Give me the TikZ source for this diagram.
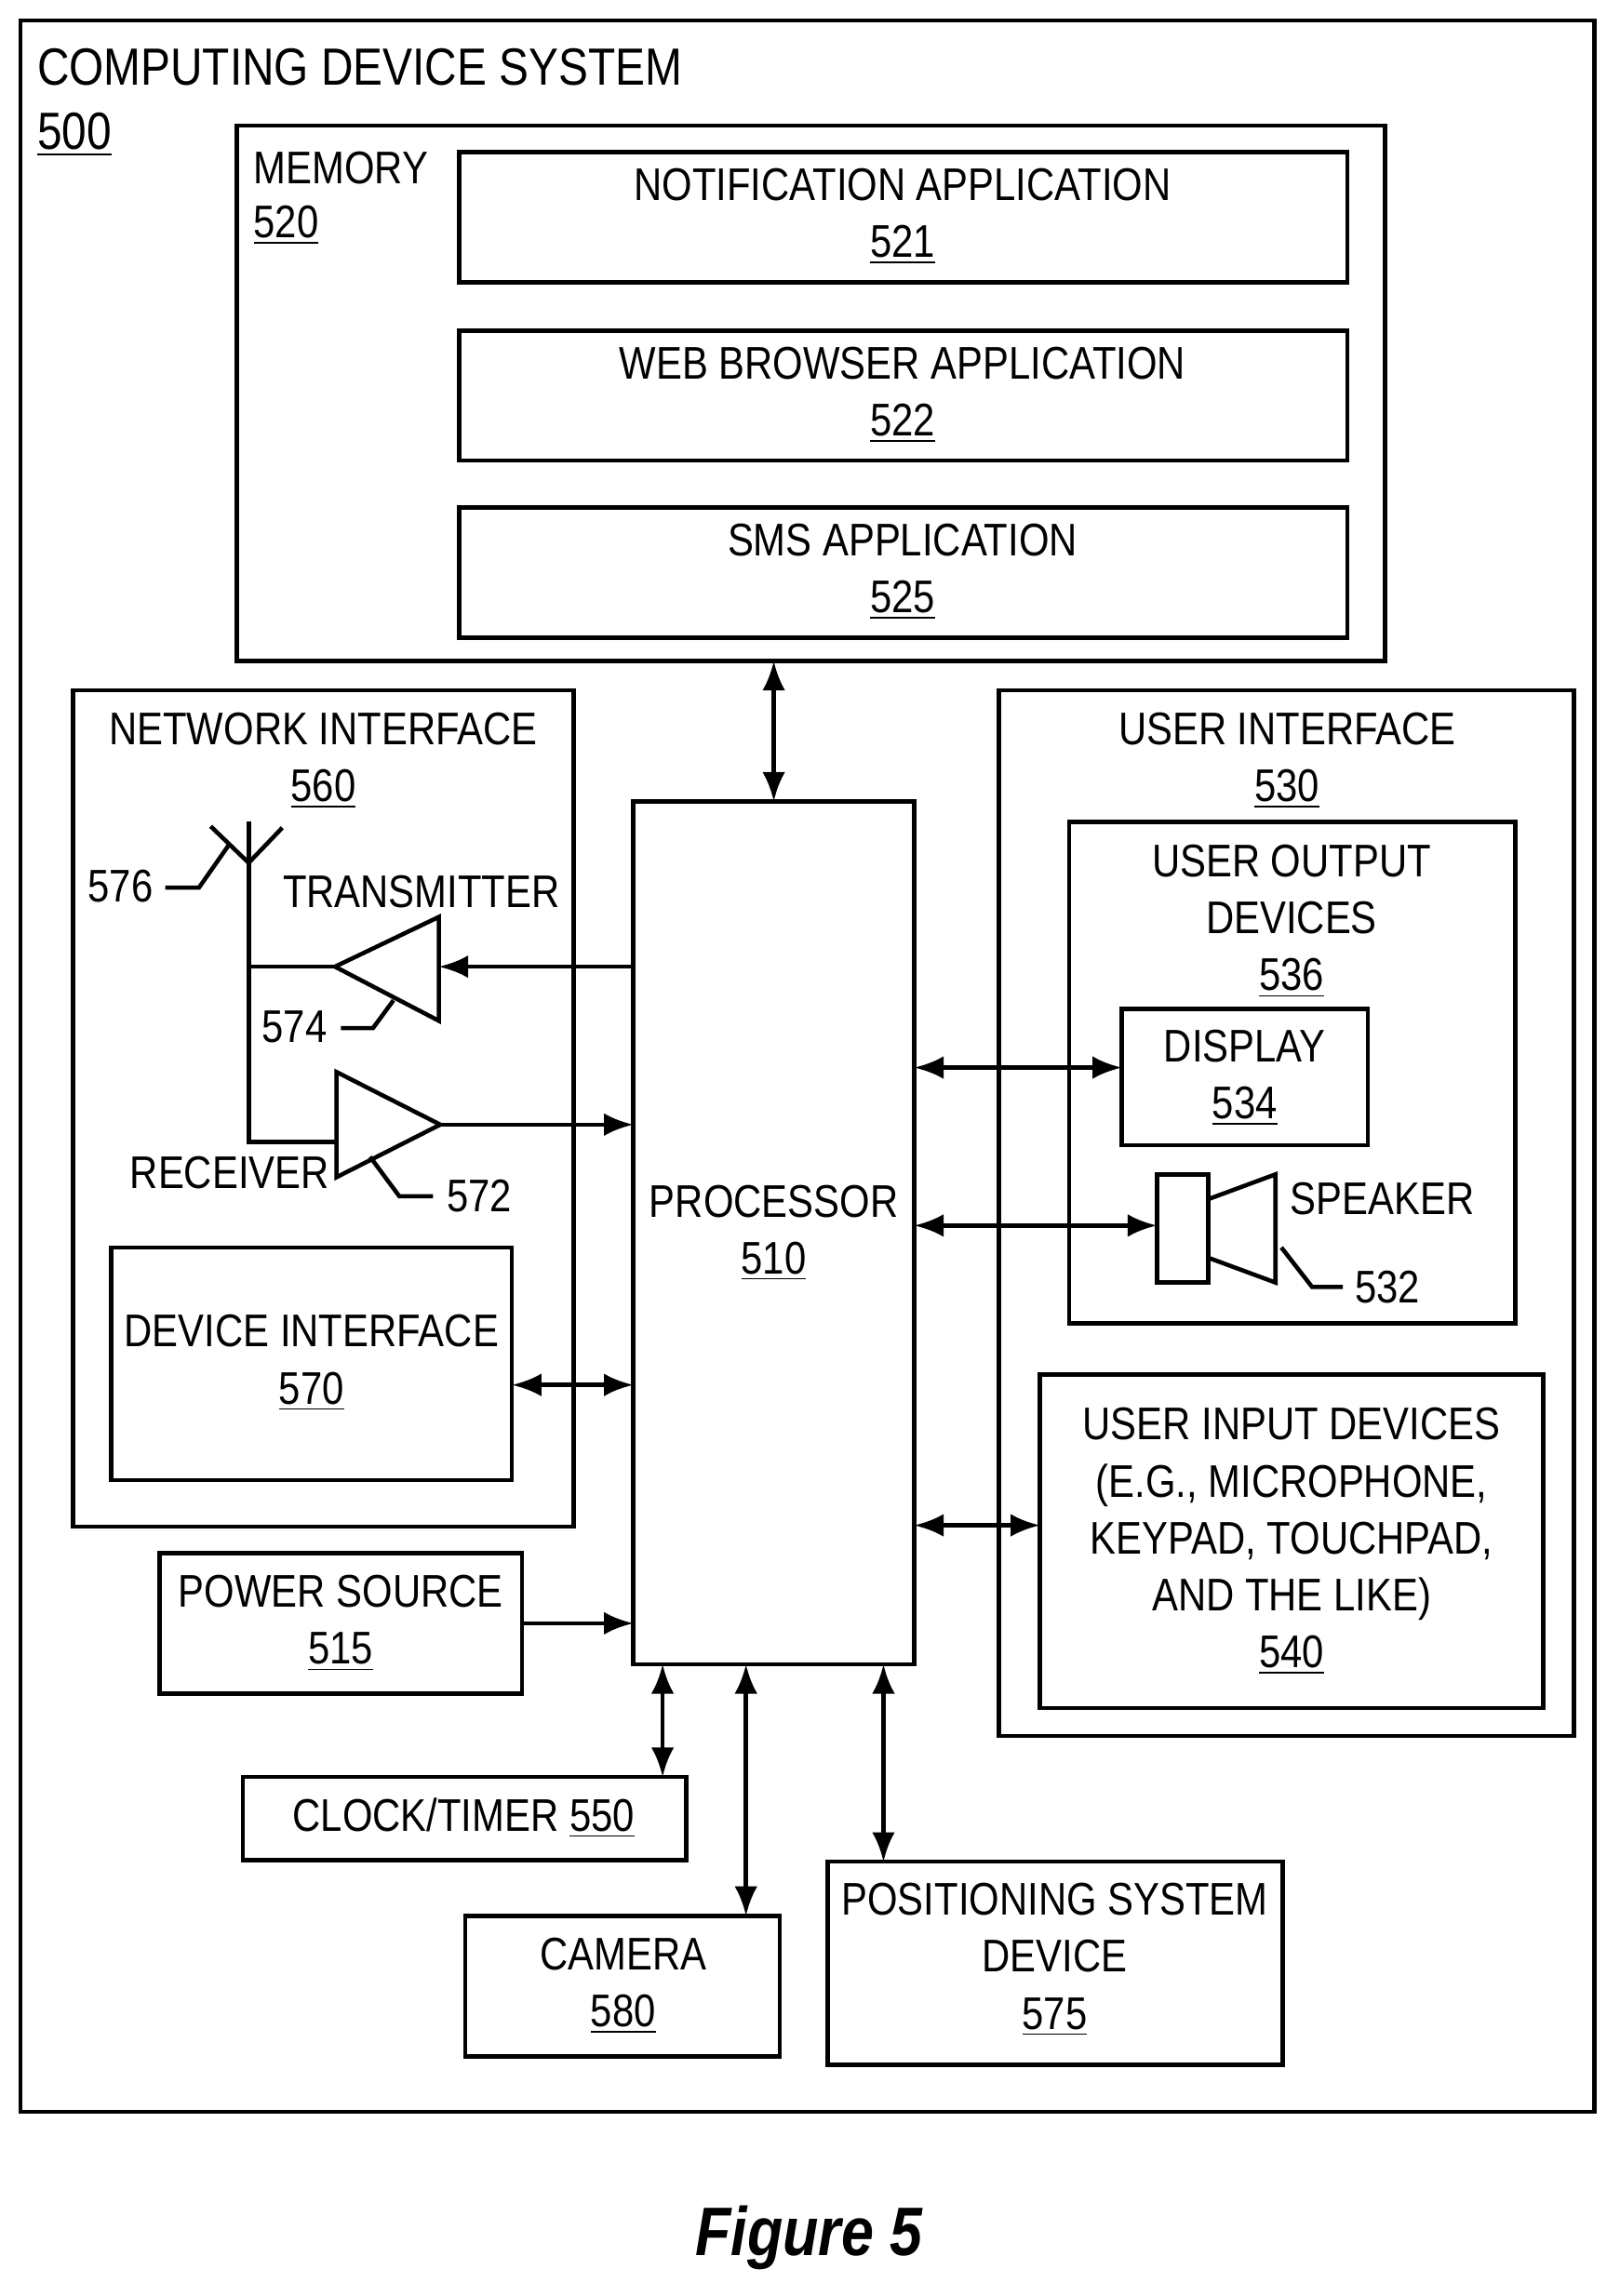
\documentclass[tikz,border=0pt]{standalone}
\usepackage{fontspec}
\setmainfont[FakeStretch=0.85]{Liberation Sans}
\usetikzlibrary{arrows.meta}
\begin{document}
\begin{tikzpicture}[
    x=0.01572cm, y=-0.01572cm,
    box/.style={draw, line width=1.3pt},
    lbl/.style={font=\fontsize{14}{17.4}\selectfont, align=center, inner sep=0pt},
    wire/.style={line width=1.3pt},
    link/.style={line width=1.3pt, {Latex[length=9pt,width=7pt]}-{Latex[length=9pt,width=7pt]}},
    feed/.style={line width=1.3pt, -{Latex[length=9pt,width=7pt]}}
]
\useasboundingbox (0,0) rectangle (1107,1570);

% outer system
\draw[box] (14,14) rectangle (1090,1444);
\node[lbl, anchor=west, font=\fontsize{16}{18}\selectfont] (sys) at (25,46) {COMPUTING DEVICE SYSTEM};
\node[lbl, anchor=west, font=\fontsize{16}{18}\selectfont] (sysnum) at (25,92) {\underline{500}};

% memory
\draw[box] (162,86) rectangle (947,452);
\node[lbl, anchor=west] (mem) at (173,115) {MEMORY};
\node[lbl, anchor=west] (memnum) at (173,154) {\underline{520}};
\draw[box] (314,104) rectangle (921,193);
\node[lbl] (notif) at (617,148) {NOTIFICATION APPLICATION\\\underline{521}};
\draw[box] (314,226) rectangle (921,315);
\node[lbl] (web) at (617,270) {WEB BROWSER APPLICATION\\\underline{522}};
\draw[box] (314,347) rectangle (921,436);
\node[lbl] (sms) at (617,391) {SMS APPLICATION\\\underline{525}};

% processor
\draw[box] (433,548) rectangle (625,1138);
\node[lbl] (proc) at (529,843) {PROCESSOR\\\underline{510}};

% network interface
\draw[box] (50,472) rectangle (392,1044);
\node[lbl] (net) at (221,520) {NETWORK INTERFACE\\\underline{560}};
\coordinate (antTop) at (170,562);
\coordinate (antJ) at (170,590);
\draw[wire] (antTop) -- (170,781) -- (230,781);
\draw[wire] (144,565) -- (antJ) -- (193,566);
\node[lbl, anchor=east] (n576) at (105,606) {576};
\draw[wire] (113,607) -- (136,607) -- (157,577);
\draw[wire] (229,661) -- (300,627) -- (300,698) -- cycle;
\draw[wire] (170,661) -- (229,661);
\node[lbl] (tx) at (288,610) {TRANSMITTER};
\node[lbl, anchor=east] (n574) at (224,702) {574};
\draw[wire] (233,703) -- (255,703) -- (269,684);
\draw[wire] (230,733) -- (301,769) -- (230,805) -- cycle;
\node[lbl] (rx) at (157,802) {RECEIVER};
\node[lbl, anchor=west] (n572) at (305,818) {572};
\draw[wire] (253,791) -- (273,818) -- (296,818);
\coordinate (txIn) at (300,661);
\coordinate (rxOut) at (301,769);
\draw[box] (76,853) rectangle (350,1012);
\node[lbl] (devif) at (213,932) {DEVICE INTERFACE\\\underline{570}};

% user interface
\draw[box] (683,472) rectangle (1076,1187);
\node[lbl] (ui) at (880,520) {USER INTERFACE\\\underline{530}};
\draw[box] (731,562) rectangle (1036,905);
\node[lbl] (uout) at (883,630) {USER OUTPUT\\DEVICES\\\underline{536}};
\draw[box] (767,690) rectangle (935,783);
\node[lbl] (disp) at (851,737) {DISPLAY\\\underline{534}};
\draw[box] (791,803) rectangle (826,877);
\draw[wire] (826,820) -- (872,803) -- (872,877) -- (826,860);
\node[lbl] (spk) at (945,820) {SPEAKER};
\node[lbl, anchor=west] (n532) at (926,880) {532};
\draw[wire] (876,853) -- (897,880) -- (918,880);
\draw[box] (711,940) rectangle (1055,1168);
\node[lbl] (uin) at (883,1054) {USER INPUT DEVICES\\(E.G., MICROPHONE,\\KEYPAD, TOUCHPAD,\\AND THE LIKE)\\\underline{540}};

% bottom devices
\draw[box] (109,1062) rectangle (357,1158);
\node[lbl] (pwr) at (233,1110) {POWER SOURCE\\\underline{515}};
\draw[box] (166,1215) rectangle (469,1272);
\node[lbl] (clk) at (317,1243) {CLOCK/TIMER \underline{550}};
\draw[box] (318,1310) rectangle (533,1406);
\node[lbl] (cam) at (426,1358) {CAMERA\\\underline{580}};
\draw[box] (566,1273) rectangle (877,1412);
\node[lbl] (pos) at (721,1340) {POSITIONING SYSTEM\\DEVICE\\\underline{575}};

% connectors
\draw[link] (529,452) -- (529,548);
\draw[feed] (433,661) -- (txIn);
\draw[feed] (rxOut) -- (433,769);
\draw[link] (350,947) -- (433,947);
\draw[feed] (357,1110) -- (433,1110);
\draw[link] (625,730) -- (767,730);
\draw[link] (625,838) -- (791,838);
\draw[link] (625,1043) -- (711,1043);
\draw[link] (453,1138) -- (453,1215);
\draw[link] (510,1138) -- (510,1310);
\draw[link] (604,1138) -- (604,1273);

\node[font=\fontsize{21}{24}\selectfont\bfseries\itshape] (fig) at (553,1530) {Figure 5};
\end{tikzpicture}
\end{document}
